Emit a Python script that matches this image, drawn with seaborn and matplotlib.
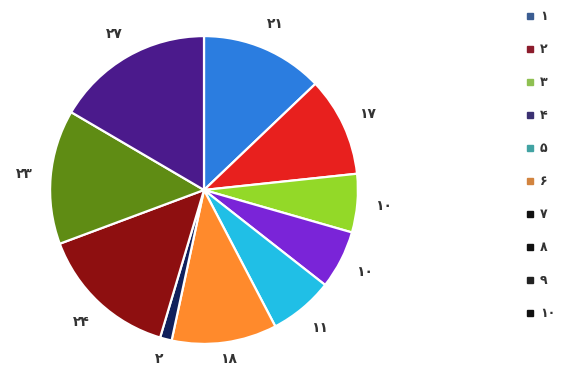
import matplotlib
matplotlib.use("Agg")
import matplotlib.pyplot as plt
from matplotlib.lines import Line2D
import seaborn as sns

categories = ["۱", "۲", "۳", "۴", "۵", "۶", "۷", "۸", "۹", "۱۰"]
values = [21, 17, 10, 10, 11, 18, 2, 24, 23, 27]
value_labels = ["۲۱", "۱۷", "۱۰", "۱۰", "۱۱", "۱۸", "۲", "۲۴", "۲۳", "۲۷"]
slice_colors = ["#2b7de0", "#e8201e", "#93d928", "#7a24d8", "#20bfe6",
                "#ff8a2c", "#10205c", "#8e0f10", "#5f8c14", "#4b1a8c"]
legend_colors = ["#3b5d92", "#8c1c2c", "#8fc052", "#3b3172", "#42a3a3",
                 "#d2843f", "#111111", "#111111", "#222222", "#111111"]

sns.set_theme(style="white")
plt.rcParams["font.family"] = ["DejaVu Sans"]

fig = plt.figure(figsize=(5.62, 3.65), dpi=100)
W, H = 562, 365
cx, cy, R = 204, 190, 148
half = 1.3 * R
ax = fig.add_axes([(cx - half) / W, (H - cy - half) / H, 2 * half / W, 2 * half / H])
ax.set_xlim(-1.3, 1.3)
ax.set_ylim(-1.3, 1.3)
ax.set_aspect("equal")
ax.axis("off")

wedges, texts = ax.pie(
    values, colors=slice_colors, labels=value_labels, startangle=90,
    counterclock=False, labeldistance=1.17,
    wedgeprops=dict(edgecolor="white", linewidth=1.6),
    textprops=dict(fontsize=10, color="#333333", fontweight="bold"),
)
for t in texts:
    t.set_clip_on(False)
    t.set_ha("center")
    t.set_va("center")
    x, y = t.get_position()
    if y < -1.1:
        # keep the bottom labels inside the picture
        t.set_position((x, -1.1))

handles = [Line2D([0], [0], marker="s", linestyle="none", markersize=4.5,
                  markerfacecolor=c, markeredgecolor=c) for c in legend_colors]
leg = fig.legend(handles, categories, loc="center left",
                 bbox_to_anchor=(520 / W, 1 - 165 / H), frameon=False,
                 fontsize=9, labelspacing=1.6, handlelength=0.8,
                 handletextpad=0.4, borderaxespad=0)
for t in leg.get_texts():
    t.set_color("#333333")
    t.set_fontweight("bold")

fig.savefig("out.png", dpi=100)
